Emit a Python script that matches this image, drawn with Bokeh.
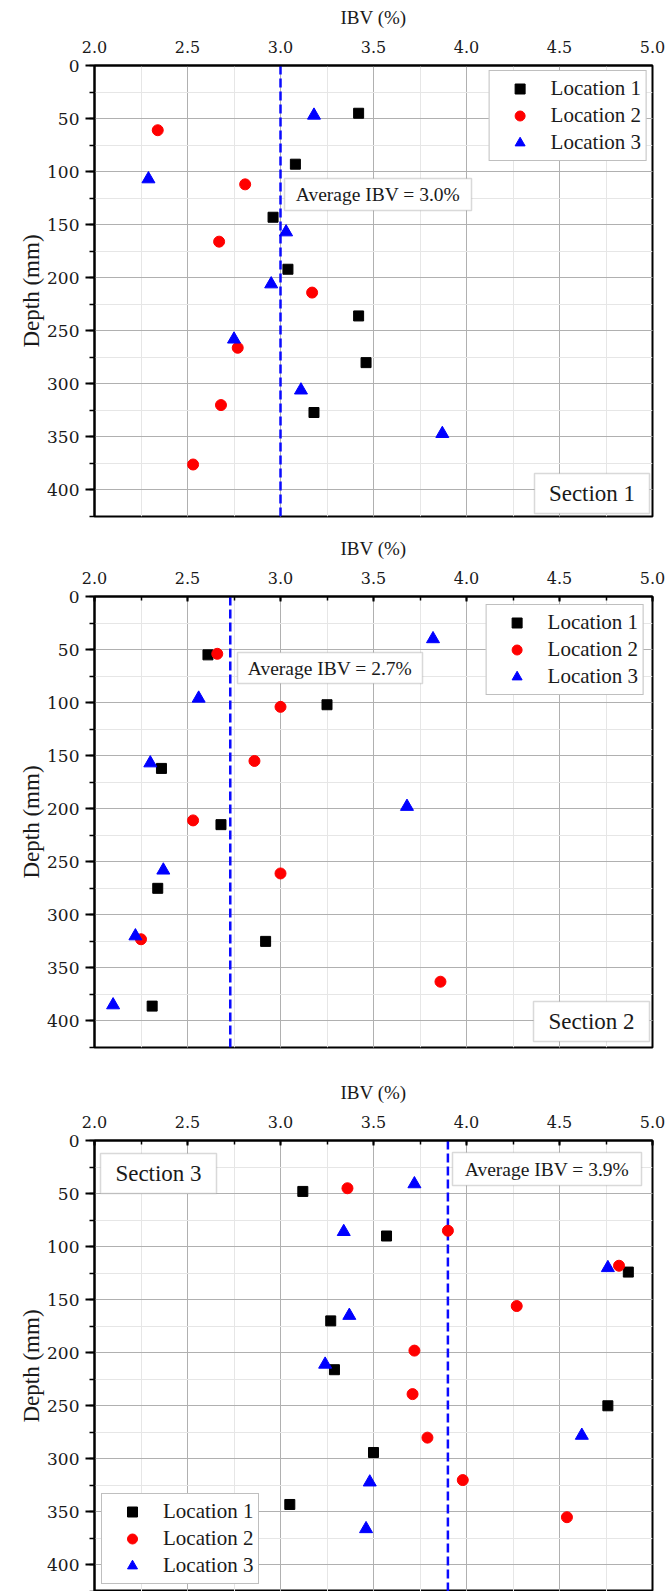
from bokeh.plotting import figure
from bokeh.layouts import column
from bokeh.models import (Range1d, SingleIntervalTicker, NumeralTickFormatter,
                          Span, BoxAnnotation, Label)
from bokeh.embed import file_html
from bokeh.resources import INLINE

# ---- data: IBV (%) against depth (mm) for three locations in each section ----
series_names = ["Location 1", "Location 2", "Location 3"]

s1_loc1_ibv = [3.42, 3.08, 2.96, 3.04, 3.42, 3.46, 3.18]
s1_loc1_depth = [45, 93, 143, 192, 236, 280, 327]
s1_loc2_ibv = [2.34, 2.81, 2.67, 3.17, 2.77, 2.68, 2.53]
s1_loc2_depth = [61, 112, 166, 214, 266, 320, 376]
s1_loc3_ibv = [3.18, 2.29, 3.03, 2.95, 2.75, 3.11, 3.87]
s1_loc3_depth = [47, 107, 157, 206, 258, 306, 347]

s2_loc1_ibv = [2.61, 3.25, 2.36, 2.68, 2.34, 2.92, 2.31]
s2_loc1_depth = [55, 102, 162, 215, 275, 325, 386]
s2_loc2_ibv = [2.66, 3.00, 2.86, 2.53, 3.00, 2.25, 3.86]
s2_loc2_depth = [54, 104, 155, 211, 261, 323, 363]
s2_loc3_ibv = [3.82, 2.56, 2.30, 3.68, 2.37, 2.22, 2.10]
s2_loc3_depth = [40, 96, 157, 198, 258, 320, 385]

s3_loc1_ibv = [3.12, 3.57, 4.87, 3.27, 3.29, 4.76, 3.50, 3.05]
s3_loc1_depth = [48, 90, 124, 170, 216, 250, 294, 343]
s3_loc2_ibv = [3.36, 3.90, 4.82, 4.27, 3.72, 3.71, 3.79, 3.98, 4.54]
s3_loc2_depth = [45, 85, 118, 156, 198, 239, 280, 320, 355]
s3_loc3_ibv = [3.72, 3.34, 4.76, 3.37, 3.24, 4.62, 3.48, 3.46]
s3_loc3_depth = [41, 86, 120, 165, 211, 278, 322, 366]

section_titles = ["Section 1", "Section 2", "Section 3"]
average_ibv = [3.0, 2.73, 3.9]

x_start, x_end, x_step = 2.0, 5.0, 0.5
depth_max, depth_step = 425, 50

SERIF = "Liberation Serif"
TICK_FONT = "DejaVu Serif"
MARKERS = [("square", "black", 10), ("circle", "red", 11), ("triangle", "blue", 13)]


def px_to_x(px):
    # horizontal screen offset inside the frame -> IBV value
    return x_start + px / 558.0 * (x_end - x_start)


def px_to_y(py):
    # vertical screen offset below the frame top -> depth value
    return py / 451.0 * depth_max


def make_panel(series, title, avg, height, border_top, border_bottom,
               top_ticks_in, legend_loc, legend_margin, avg_box, title_box):
    p = figure(width=669, height=height, x_axis_location="above",
               output_backend="svg", toolbar_location=None,
               min_border_left=94, min_border_right=17,
               min_border_top=border_top, min_border_bottom=border_bottom,
               x_range=Range1d(x_start, x_end),
               y_range=Range1d(depth_max, 0))
    p.background_fill_color = "white"
    p.border_fill_color = "white"
    p.outline_line_color = "black"
    p.outline_line_width = 2
    p.outline_line_alpha = 1

    xt = SingleIntervalTicker(interval=x_step, num_minor_ticks=2)
    yt = SingleIntervalTicker(interval=depth_step, num_minor_ticks=2)
    p.xaxis.ticker = xt
    p.yaxis.ticker = yt
    p.xgrid.ticker = xt
    p.ygrid.ticker = yt
    p.xaxis.formatter = NumeralTickFormatter(format="0.0")

    for g in (p.xgrid, p.ygrid):
        g.grid_line_color = "#b0b0b0"
        g.grid_line_width = 1
        g.minor_grid_line_color = "#e6e6e6"
        g.minor_grid_line_width = 1

    ax = p.xaxis[0]
    ax.axis_label = "IBV (%)"
    ax.axis_label_text_font = SERIF
    ax.axis_label_text_font_size = "19px"
    ax.axis_label_text_font_style = "normal"
    ax.axis_label_text_color = "#1a1a1a"
    ax.axis_label_standoff = 10
    ax.major_label_text_font = TICK_FONT
    ax.major_label_text_font_size = "16px"
    ax.major_label_text_color = "#1a1a1a"
    ax.major_label_standoff = 13
    ax.axis_line_width = 2
    ax.major_tick_out = 0
    ax.minor_tick_out = 0
    ax.major_tick_in = 5 if top_ticks_in else 0
    ax.minor_tick_in = 4 if top_ticks_in else 0
    ax.major_tick_line_width = 2
    ax.minor_tick_line_width = 1.5

    ay = p.yaxis[0]
    ay.axis_label = "Depth (mm)"
    ay.axis_label_text_font = SERIF
    ay.axis_label_text_font_size = "23px"
    ay.axis_label_text_font_style = "normal"
    ay.axis_label_text_color = "#1a1a1a"
    ay.axis_label_standoff = 0
    ay.major_label_text_font = TICK_FONT
    ay.major_label_text_font_size = "17px"
    ay.major_label_text_color = "#1a1a1a"
    ay.major_label_standoff = 6
    ay.axis_line_width = 2
    ay.major_tick_out = 9
    ay.major_tick_in = 0
    ay.minor_tick_out = 5
    ay.minor_tick_in = 0
    ay.major_tick_line_width = 2
    ay.minor_tick_line_width = 1.5

    # dashed average line
    span = Span(location=avg, dimension="height", line_color="#0a0aff",
                line_width=2.5, line_dash="9 4", level="underlay")
    p.add_layout(span)

    for (ibv, depth), name, (marker, color, size) in zip(series, series_names, MARKERS):
        p.scatter(ibv, depth, marker=marker, size=size, fill_color=color,
                  line_color=color, legend_label=name)

    lg = p.legend[0]
    lg.location = legend_loc
    lg.margin = legend_margin
    lg.label_text_font = SERIF
    lg.label_text_font_size = "21px"
    lg.label_text_color = "#1a1a1a"
    lg.border_line_color = "#808080"
    lg.border_line_width = 1.5
    lg.background_fill_color = "white"
    lg.background_fill_alpha = 1
    lg.padding = 5
    lg.spacing = 2
    lg.glyph_width = 50
    lg.glyph_height = 25
    lg.label_height = 25
    lg.label_standoff = 6

    # boxed text annotations
    for (l, r, t, b), text, size in ((avg_box, f"Average IBV = {avg:.1f}%", "19.5px"),
                                     (title_box, title, "23px")):
        x0, x1 = px_to_x(l), px_to_x(r)
        y0, y1 = px_to_y(t), px_to_y(b)
        p.add_layout(BoxAnnotation(left=x0, right=x1, top=y0, bottom=y1,
                                   fill_color="white", fill_alpha=1,
                                   line_color="#808080", line_width=1.5))
        p.add_layout(Label(x=(x0 + x1) / 2, y=(y0 + y1) / 2, text=text,
                           text_align="center", text_baseline="middle",
                           text_font=SERIF, text_font_size=size,
                           text_color="#1a1a1a"))
    return p


p1 = make_panel([(s1_loc1_ibv, s1_loc1_depth), (s1_loc2_ibv, s1_loc2_depth),
                 (s1_loc3_ibv, s1_loc3_depth)],
                section_titles[0], average_ibv[0], 530, 65, 14, False,
                "top_right", 5, (190, 377, 113, 145), (440, 555, 408, 448))
p2 = make_panel([(s2_loc1_ibv, s2_loc1_depth), (s2_loc2_ibv, s2_loc2_depth),
                 (s2_loc3_ibv, s2_loc3_depth)],
                section_titles[1], average_ibv[1], 545, 66, 28, True,
                "top_right", 8, (143, 328, 56, 87), (439, 555, 405, 445))
p3 = make_panel([(s3_loc1_ibv, s3_loc1_depth), (s3_loc2_ibv, s3_loc2_depth),
                 (s3_loc3_ibv, s3_loc3_depth)],
                section_titles[2], average_ibv[2], 516, 65, 0, True,
                "bottom_left", 7, (358, 547, 12, 45), (6, 122, 13, 53))

layout = column(p1, p2, p3, spacing=0)

with open("out.html", "w") as f:
    f.write(file_html(layout, INLINE))
